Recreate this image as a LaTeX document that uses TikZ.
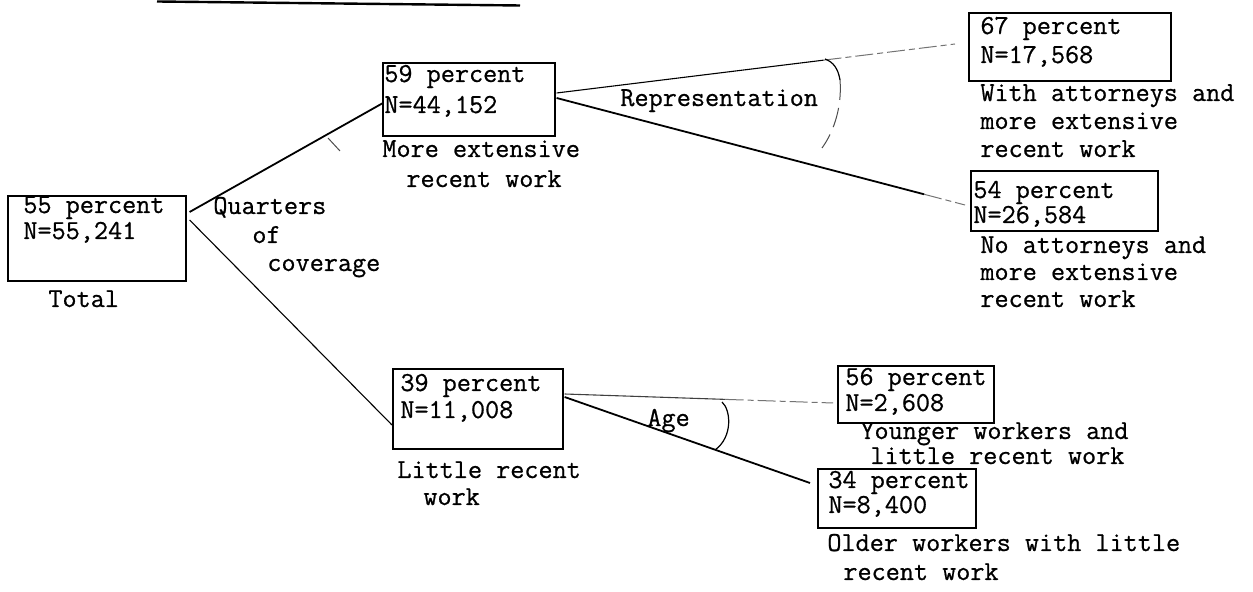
\documentclass[tikz,border=0pt]{standalone}
\usepackage{fontspec}
\newfontfamily\tw[FakeBold=0.7]{Latin Modern Mono}
\usetikzlibrary{calc}
\begin{document}
\begin{tikzpicture}[x=0.5pt,y=-0.5pt,
  txt/.style={anchor=base west,inner sep=0pt,font=\tw\fontsize{13.7}{16}\selectfont},
  box/.style 2 args={draw,line width=0.8pt,inner sep=0pt,anchor=north west,
    minimum width=#1*0.5pt,minimum height=#2*0.5pt},
  heavy/.style={line width=0.9pt},
  plain/.style={line width=0.55pt},
  faint/.style={line width=0.5pt,black!55,dash pattern=on 9pt off 2pt on 3pt off 2pt},
  marc/.style={line width=0.5pt,black!70}]
\useasboundingbox (0,0) rectangle (1253,592);

% heading rule
\draw[line width=1.2pt] (157,1.5) -- (520,5.5);

% boxes
\node[box={178}{85}] (tot) at (7,195) {};
\node[box={172}{73}] (B) at (382,62) {};
\node[box={202}{68}] (C) at (968,12) {};
\node[box={187}{60}] (D) at (970,170) {};
\node[box={170}{80}] (E) at (392,368) {};
\node[box={156}{57}] (F) at (837,365) {};
\node[box={158}{59}] (G) at (817,468) {};

% box contents
\node[txt] (totp) at (23,213) {55 percent};
\node[txt] (totn) at (23,239) {N=55,241};
\node[txt] (Bp) at (384,82) {59 percent};
\node[txt] (Bn) at (384,113) {N=44,152};
\node[txt] (Cp) at (980,34) {67 percent};
\node[txt] (Cn) at (980,63) {N=17,568};
\node[txt] (Dp) at (973,198) {54 percent};
\node[txt] (Dn) at (973,223) {N=26,584};
\node[txt] (Ep) at (400,391) {39 percent};
\node[txt] (En) at (400,418) {N=11,008};
\node[txt] (Fp) at (845,385) {56 percent};
\node[txt] (Fn) at (845,411) {N=2,608};
\node[txt] (Gp) at (828,488) {34 percent};
\node[txt] (Gn) at (828,513) {N=8,400};

% captions under the boxes
\node[txt] (totl) at (48,307) {Total};
\node[txt] (Bl1) at (382,157) {More extensive};
\node[txt] (Bl2) at (406,187) {recent work};
\node[txt] (Cl1) at (980,101) {With attorneys and};
\node[txt] (Cl2) at (980,129) {more extensive};
\node[txt] (Cl3) at (980,157) {recent work};
\node[txt] (Dl1) at (980,253) {No attorneys and};
\node[txt] (Dl2) at (980,280) {more extensive};
\node[txt] (Dl3) at (980,307) {recent work};
\node[txt] (El1) at (397,478) {Little recent};
\node[txt] (El2) at (423,505) {work};
\node[txt] (Fl1) at (860,439) {Younger workers and};
\node[txt] (Fl2) at (870,464) {little recent work};
\node[txt] (Gl1) at (827,551) {Older workers with little};
\node[txt] (Gl2) at (843,580) {recent work};

% split variables
\node[txt] (q1) at (213,214) {Quarters};
\node[txt] (q2) at (252,243) {of};
\node[txt] (q3) at (267,271) {coverage};
\node[txt] (rep) at (620,106) {Representation};
\node[txt] (age) at (647,426) {Age};

% branches: quarters of coverage
\draw[heavy] ($(tot.north east)+(3,17)$) -- ($(B.north west)+(1,41)$);
\draw[plain] ($(tot.north east)+(3,25)$) -- ($(E.north west)+(0,57)$);
\draw[marc] (328,138) -- (340,151);

% branches: representation
\coordinate (bc0) at ($(B.north east)+(1,31)$);
\coordinate (bc1) at ($(C.north west)+(-13,32)$);
\draw[plain] (bc0) -- ($(bc0)!0.67!(bc1)$);
\draw[faint] ($(bc0)!0.67!(bc1)$) -- (bc1);
\coordinate (bd0) at ($(B.north east)+(1,36)$);
\coordinate (bd1) at ($(D.north west)+(-5,35)$);
\draw[heavy] (bd0) -- ($(bd0)!0.9!(bd1)$);
\draw[faint] ($(bd0)!0.9!(bd1)$) -- (bd1);
\draw[line width=0.6pt] (825,59) .. controls (833,62) and (838,68) .. (840,80);
\draw[marc,dash pattern=on 10pt off 4pt] (840,80) .. controls (842,105) and (835,130) .. (822,148);

% branches: age
\coordinate (ef0) at ($(E.north east)+(1,26)$);
\coordinate (ef1) at ($(F.north west)+(-4,38)$);
\draw[plain,black!75] (ef0) -- ($(ef0)!0.6!(ef1)$);
\draw[faint] ($(ef0)!0.6!(ef1)$) -- (ef1);
\draw[heavy] ($(E.north east)+(1,29)$) -- ($(G.north west)+(-7,15)$);
\draw[line width=0.6pt] (722,402) .. controls (731,410) and (733,437) .. (715,450);
\end{tikzpicture}
\end{document}
